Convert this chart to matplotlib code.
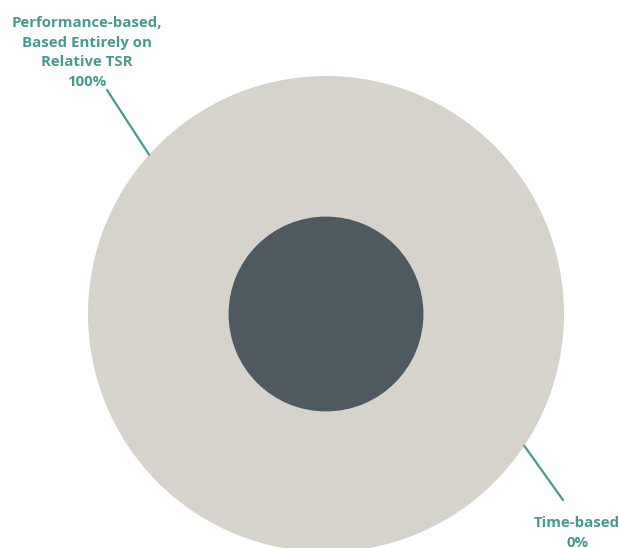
import numpy as np
import matplotlib
matplotlib.use('Agg')
import matplotlib.pyplot as plt

# 株式報酬の構成
labels = ['Performance-based,\nBased Entirely on\nRelative TSR', 'Time-based']
shares = [100, 0]
label_angles = [138, -33.6]   # 引き出し線の位置（度）
text_pos = [(-1.006, 0.945), (1.055, -0.848)]
line_end = [(-0.920, 0.941), (0.996, -0.782)]

ring_color = '#d6d3cd'
core_color = '#4e5960'
teal = '#4a998e'

plt.rcParams['font.family'] = ['Open Sans', 'DejaVu Sans']

fig = plt.figure(figsize=(6.19, 5.48), dpi=100)
ax = fig.add_axes([0, 0, 1, 1])

ax.pie(shares, colors=[ring_color, ring_color], radius=1.0, startangle=90,
       counterclock=False, wedgeprops=dict(width=1 - 97.5 / 238, linewidth=0))
ax.pie([1], colors=[core_color], radius=97.5 / 238, wedgeprops=dict(linewidth=0))

for lab, val, ang, tp, le in zip(labels, shares, label_angles, text_pos, line_end):
    a = np.deg2rad(ang)
    ax.annotate('', xy=(np.cos(a), np.sin(a)), xytext=le,
                arrowprops=dict(arrowstyle='-', color=teal, lw=1.6,
                                shrinkA=0, shrinkB=0))
    va = 'bottom' if tp[1] > 0 else 'top'
    ax.text(tp[0], tp[1], f'{lab}\n{val}%', ha='center', va=va, color=teal,
            fontsize=10.8, fontweight='bold', linespacing=1.52)

ax.set_xlim(-326 / 238, (619 - 326) / 238)
ax.set_ylim(-(548 - 314) / 238, 314 / 238)
ax.set_aspect('equal')
ax.axis('off')

fig.savefig('out.png', dpi=100)
